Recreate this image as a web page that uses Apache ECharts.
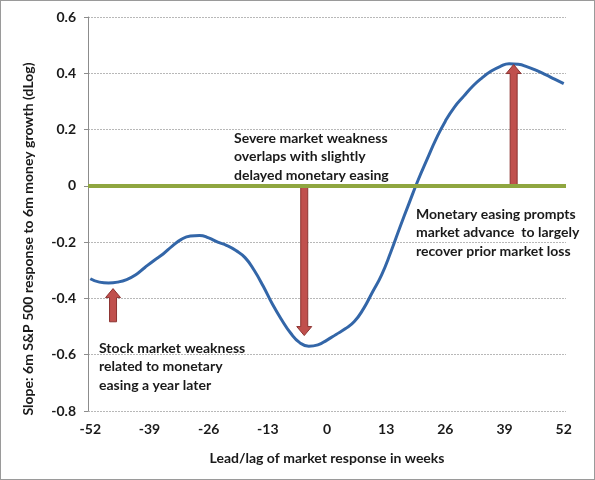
<!DOCTYPE html>
<html>
<head>
<meta charset="utf-8">
<script src="https://cdn.jsdelivr.net/npm/echarts@6/dist/echarts.min.js"></script>
<style>
html,body{margin:0;padding:0;background:#fff;}
#c{width:593px;height:478px;border:1px solid #9a9a9a;}
</style>
</head>
<body>
<div id="c"></div>
<script>
// x categories: weeks of lead/lag
const weekCategories = [];
for (let w = -52; w <= 52; w++) weekCategories.push(String(w));

// curve readings (week, slope)
const curveWeeks = [-52,-50,-48,-46,-44,-42,-40,-38,-36,-34,-32,-30,-28,-26,-24,-22,-20,-18,-16,-14,-12,-10,-8,-6,-4,-2,0,2,4,6,8,10,12,14,16,18,20,22,24,26,28,30,32,34,36,38,40,42,44,46,48,50,52];
const curveValues = [-0.330,-0.342,-0.345,-0.342,-0.333,-0.316,-0.290,-0.265,-0.242,-0.214,-0.190,-0.178,-0.176,-0.185,-0.200,-0.212,-0.230,-0.255,-0.300,-0.357,-0.420,-0.475,-0.523,-0.557,-0.570,-0.565,-0.548,-0.528,-0.508,-0.482,-0.437,-0.377,-0.316,-0.236,-0.148,-0.063,0.020,0.095,0.168,0.230,0.280,0.318,0.354,0.383,0.407,0.424,0.434,0.432,0.423,0.410,0.395,0.379,0.363];

// arrows: week, base value, tip value
const arrowWeeks = [-47, -5, 41];
const arrowBase = [-0.483, 0, 0];
const arrowTip = [-0.365, -0.532, 0.431];

// text
const yTitle = 'Slope: 6m S&P 500 response to 6m money growth (dLog)';
const xTitle = 'Lead/lag of market response in weeks';
const noteSevere = ['Severe market weakness', 'overlaps with slightly', 'delayed monetary easing'];
const noteEasing = ['Monetary easing prompts', 'market advance  to largely', 'recover prior market loss'];
const noteStock = ['Stock market weakness', 'related to monetary', 'easing a year later'];

const FONT = 'Lato';
const TXT = '#1a1a1a';

const chart = echarts.init(document.getElementById('c'));

function arrowItem(params, api) {
  const x = api.value(0);
  const p0 = api.coord([x, api.value(1)]);
  const p1 = api.coord([x, api.value(2)]);
  const dir = p1[1] < p0[1] ? -1 : 1; // -1 = up
  const cx = p0[0];
  const sw = 3.5, hw = 7.5, hl = 9;
  const neck = p1[1] - dir * hl;
  const pts = [
    [cx - sw, p0[1]], [cx - sw, neck], [cx - hw, neck], [cx, p1[1]],
    [cx + hw, neck], [cx + sw, neck], [cx + sw, p0[1]]
  ];
  return {
    type: 'polygon',
    shape: { points: pts },
    style: { fill: '#c0504d', stroke: '#8c3331', lineWidth: 1 }
  };
}

function noteGraphic(lines, left, top) {
  return {
    type: 'text', left: left, top: top,
    style: { text: lines.join('\n'), font: 'bold 14px ' + FONT, fill: TXT, lineHeight: 18.5 }
  };
}

chart.setOption({
  animation: false,
  grid: { left: 87, right: 28, top: 16, bottom: 68 },
  xAxis: {
    type: 'category',
    data: weekCategories,
    boundaryGap: true,
    axisLine: { show: false },
    axisTick: { show: false },
    axisLabel: { interval: 12, margin: 11, fontFamily: FONT, fontWeight: 'bold', fontSize: 14, color: TXT },
    name: xTitle,
    nameLocation: 'middle',
    nameGap: 40,
    nameTextStyle: { fontFamily: FONT, fontWeight: 'bold', fontSize: 14, color: TXT }
  },
  yAxis: {
    type: 'value',
    min: -0.8, max: 0.6, interval: 0.2,
    axisLine: { show: true, lineStyle: { color: '#8c8c8c' } },
    axisTick: { show: true, length: 4, lineStyle: { color: '#8c8c8c' } },
    splitLine: { show: true, lineStyle: { color: '#b8b8b8', type: [2, 1], width: 1 } },
    axisLabel: {
      margin: 12, fontFamily: FONT, fontWeight: 'bold', fontSize: 14, color: TXT,
      formatter: v => String(+v.toFixed(1))
    }
  },
  series: [
    {
      type: 'line',
      data: [],
      markLine: {
        silent: true, symbol: 'none', label: { show: false },
        lineStyle: { color: '#8fa640', width: 4, type: 'solid' },
        data: [{ yAxis: 0 }]
      },
      z: 2
    },
    {
      type: 'line',
      data: curveWeeks.map((w, i) => [String(w), curveValues[i]]),
      smooth: 0.5,
      showSymbol: false,
      lineStyle: { color: '#3366a8', width: 3 },
      z: 3
    },
    {
      type: 'custom',
      renderItem: arrowItem,
      data: arrowWeeks.map((w, i) => [String(w), arrowBase[i], arrowTip[i]]),
      encode: { x: 0, y: [1, 2] },
      z: 4
    }
  ],
  graphic: [
    {
      type: 'text', x: 27, y: 238, rotation: Math.PI / 2,
      style: { text: yTitle, font: 'bold 14px ' + FONT, fill: TXT, align: 'center', verticalAlign: 'middle' }
    },
    noteGraphic(noteSevere, 233, 128),
    noteGraphic(noteEasing, 415, 204),
    noteGraphic(noteStock, 98, 338)
  ]
});
</script>
</body>
</html>
